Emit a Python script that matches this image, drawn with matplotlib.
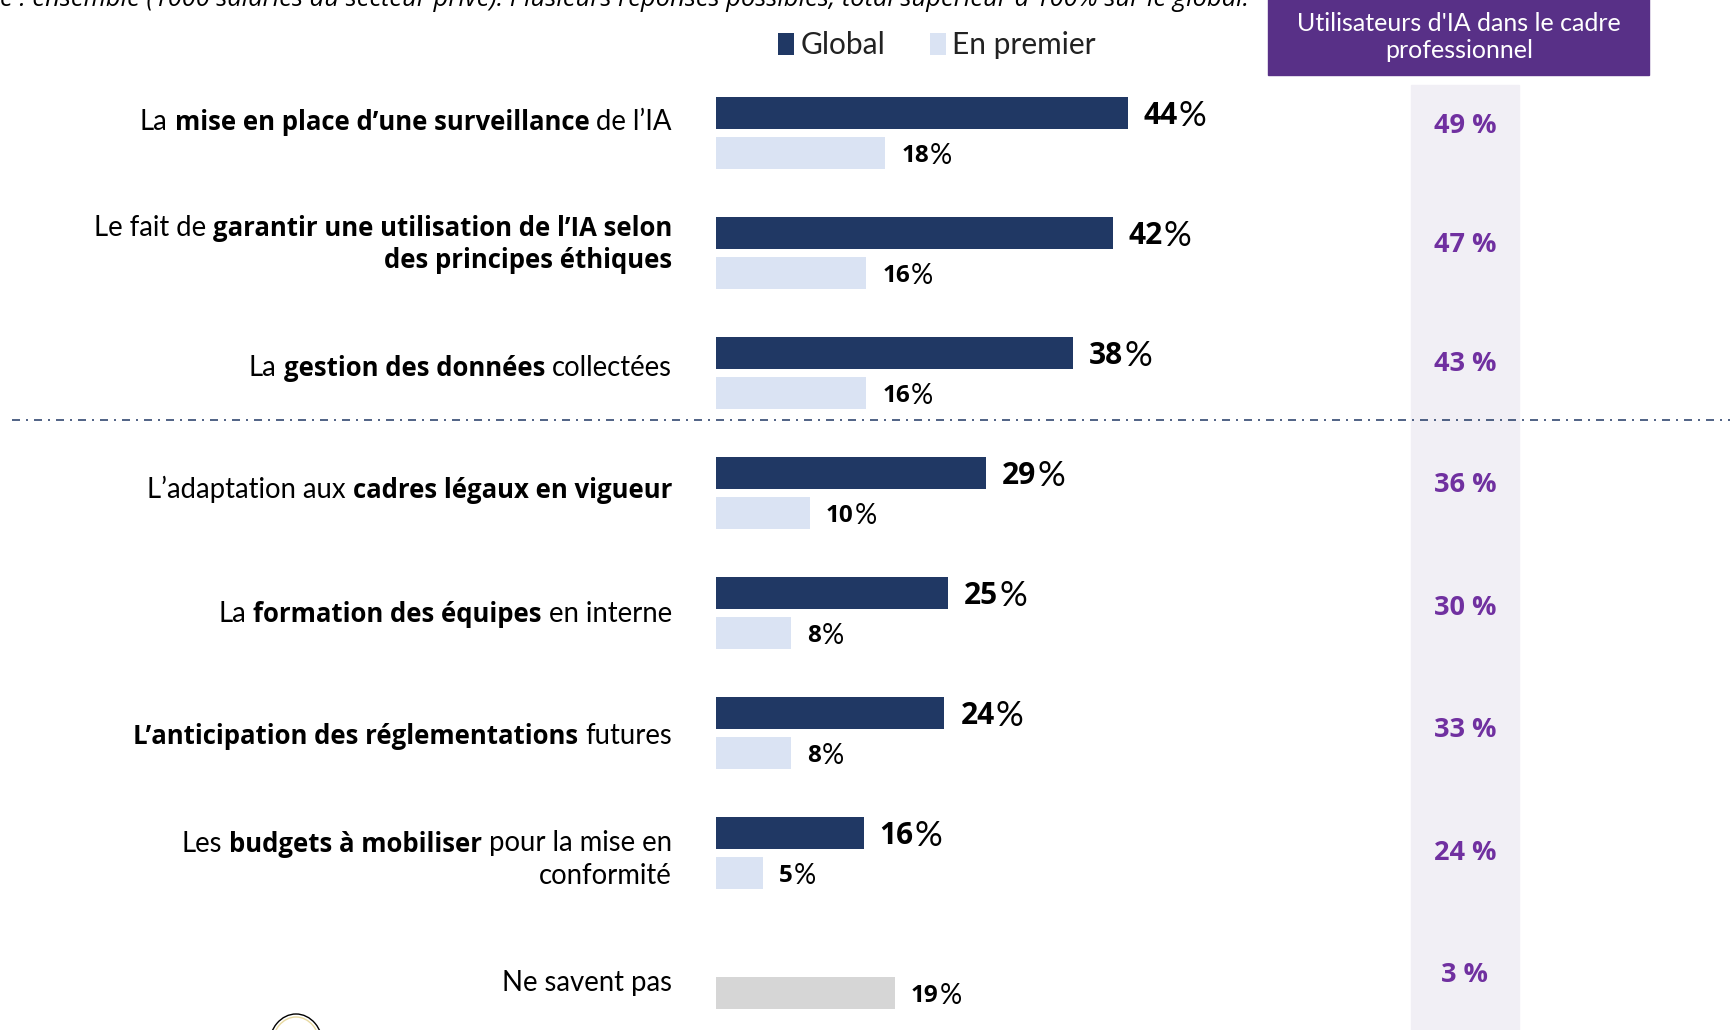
import matplotlib
matplotlib.use("Agg")
import matplotlib.pyplot as plt

W, H = 1731, 1030
plt.rcParams['font.family'] = ['Lato', 'DejaVu Sans']
plt.rcParams['lines.scale_dashes'] = False

# values (longueur des barres, le libelle est l'arrondi)
global_vals = [43.8, 42.2, 38, 28.7, 24.7, 24.3, 15.7]
premier_vals = [18, 16, 16, 10, 8, 8, 5]
nsp_val = 19
users_vals = ["49 %", "47 %", "43 %", "36 %", "30 %", "33 %", "24 %", "3 %"]

# labels, (texte, gras) par morceau, une liste par ligne
labels = [
    [[("La", False), ("mise en place d’une surveillance", True), ("de l’IA", False)]],
    [[("Le fait de", False), ("garantir une utilisation de l’IA selon", True)],
     [("des principes éthiques", True)]],
    [[("La", False), ("gestion des données", True), ("collectées", False)]],
    [[("L’adaptation aux", False), ("cadres légaux en vigueur", True)]],
    [[("La", False), ("formation des équipes", True), ("en interne", False)]],
    [[("L’anticipation des réglementations", True), ("futures", False)]],
    [[("Les", False), ("budgets à mobiliser", True), ("pour la mise en", False)],
     [("conformité", False)]],
    [[("Ne savent pas", False)]],
]
note = ("e : ensemble (1000 salariés du secteur privé). Plusieurs réponses possibles, "
        "total supérieur à 100% sur le global.")
users_title = "Utilisateurs d'IA dans le cadre\nprofessionnel"

NAVY = "#203864"
LIGHT = "#DAE3F3"
GREY = "#D6D6D6"
PURPLE = "#583087"
PURPLE_TXT = "#7030A0"
BAND = "#F1EFF5"
BOLD_FONT = ["Open Sans", "DejaVu Sans"]

# mise en page, en pixels de l'image
X0 = 716
PX_PER_PCT = 9.4
ROW_H = 120
Y0 = 113
LABEL_Y = [119, 241, 365, 487, 611, 733, 857, 980]
USERS_Y = [123, 242, 361, 482, 605, 727, 850, 972]


def fx(px):
    return px / W


def fy(py):
    return 1 - py / H


fig = plt.figure(figsize=(W / 100, H / 100), dpi=100)
ax = fig.add_axes([0, 0, 1, 1])
ax.set_xlim(-X0 / PX_PER_PCT, (W - X0) / PX_PER_PCT)
ax.set_ylim((H - Y0) / ROW_H, -Y0 / ROW_H)
ax.axis("off")

rows = list(range(len(global_vals)))
offset = 40 / ROW_H
height = 32 / ROW_H
bars_g = ax.barh(rows, global_vals, height=height, color=NAVY, label="Global")
bars_p = ax.barh([r + offset for r in rows], premier_vals, height=height, color=LIGHT, label="En premier")
ax.barh(len(rows) + offset, nsp_val, height=height, color=GREY)

renderer = fig.canvas.get_renderer()


def rich_line(x_right, y, parts):
    # morceaux poses de droite a gauche, alignes a droite
    x = x_right
    for txt, bold in reversed(parts):
        if bold:
            t = fig.text(fx(x), fy(y), txt, ha="right", va="center_baseline", fontsize=18.5,
                         fontweight="bold", family=BOLD_FONT)
        else:
            t = fig.text(fx(x), fy(y), txt, ha="right", va="center_baseline", fontsize=19.8,
                         fontweight="normal")
        x -= t.get_window_extent(renderer).width + 7


for lines, yc in zip(labels, LABEL_Y):
    top = yc - (len(lines) - 1) * 16
    for i, parts in enumerate(lines):
        rich_line(672, top + i * 32, parts)


def value_label(px_left, py, v, size, size_pct):
    # chiffres gras, signe % plus fin
    t = fig.text(fx(px_left), fy(py), str(v), ha="left", va="center_baseline", fontsize=size,
                 fontweight="bold", family=BOLD_FONT)
    w = t.get_window_extent(renderer).width
    fig.text(fx(px_left + w + 1), fy(py), "%", ha="left", va="center_baseline", fontsize=size_pct)


for r, v in zip(rows, global_vals):
    value_label(X0 + v * PX_PER_PCT + 16, Y0 + r * ROW_H, round(v), 21.5, 25)
for r, v in zip(rows, premier_vals):
    value_label(X0 + v * PX_PER_PCT + 16, Y0 + (r + offset) * ROW_H, v, 17.5, 20)
value_label(X0 + nsp_val * PX_PER_PCT + 16, Y0 + (len(rows) + offset) * ROW_H, nsp_val, 17.5, 20)

# separateur
ax.plot([(12 - X0) / PX_PER_PCT, (W - X0) / PX_PER_PCT], [(419.5 - Y0) / ROW_H] * 2, color=NAVY, lw=1.1,
        linestyle=(0, (5.76, 4.32, 1.44, 4.32)), dash_capstyle="butt", zorder=3)

# colonne utilisateurs
fig.patches.append(plt.Rectangle((fx(1411), 0), 108 / W, fy(85), transform=fig.transFigure, color=BAND, zorder=-1))
fig.patches.append(plt.Rectangle((fx(1268), fy(75)), 381 / W, 75 / H + 0.01, transform=fig.transFigure, color=PURPLE, zorder=-1))
fig.text(fx(1459), fy(37), users_title, ha="center", va="center", color="white", fontsize=18,
         linespacing=1.25, fontweight="normal")
for val, yc in zip(users_vals, USERS_Y):
    fig.text(fx(1465), fy(yc), val, ha="center", va="center_baseline", color=PURPLE_TXT, fontsize=19.5,
             fontweight="bold", family=BOLD_FONT)

# note coupee en haut
fig.text(0, fy(6), note, ha="left", va="baseline", fontsize=18.4, style="italic",
         family=["Open Sans", "DejaVu Sans"])

ax.legend(handles=[bars_g, bars_p], loc="center left", bbox_to_anchor=(fx(751), fy(45)),
          bbox_transform=fig.transFigure, ncol=2, frameon=False, fontsize=21.5,
          handlelength=0.55, handleheight=0.75, handletextpad=0.2, columnspacing=1.5,
          labelcolor="#222222")

fig.add_artist(matplotlib.patches.Arc((fx(296), fy(1046)), 54 / W, 64 / H, theta1=0, theta2=180,
                                      transform=fig.transFigure, color="black", lw=1))
fig.add_artist(matplotlib.patches.Arc((fx(296), fy(1046)), 48 / W, 58 / H, theta1=0, theta2=180,
                                      transform=fig.transFigure, color="#E8D9A0", lw=1))

plt.savefig("out.png", dpi=100)
